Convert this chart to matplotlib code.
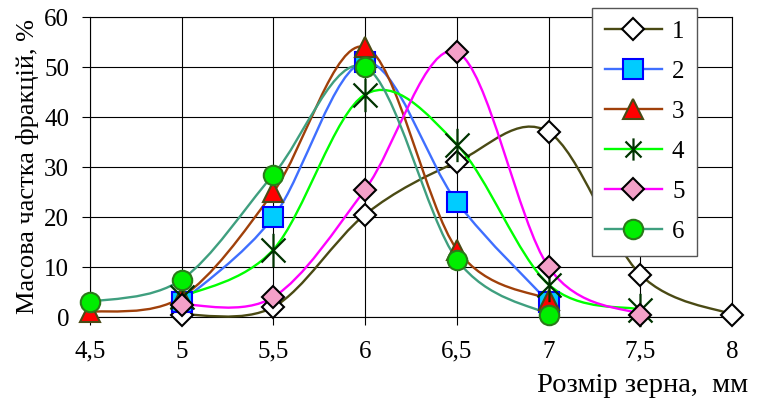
import matplotlib
matplotlib.use('Agg')
import matplotlib.pyplot as plt
from matplotlib.path import Path
from matplotlib.patches import PathPatch
from matplotlib.lines import Line2D

plt.rcParams['font.family'] = ['Liberation Serif', 'DejaVu Serif']

# розмір зерна, мм
x1 = [5, 5.5, 6, 6.5, 7, 7.5, 8]
y1 = [0.5, 2, 20.5, 31, 37, 8.5, 0.5]
x2 = [5, 5.5, 6, 6.5, 7]
y2 = [3, 20, 51, 23, 3]
x3 = [4.5, 5, 5.5, 6, 6.5, 7]
y3 = [1, 4, 25, 54, 13.5, 3.5]
x4 = [5, 5.5, 6, 6.5, 7, 7.5]
y4 = [4, 13.5, 44.5, 34.5, 6.5, 1.5]
x5 = [5, 5.5, 6, 6.5, 7, 7.5]
y5 = [2.5, 4, 25.5, 53, 10, 0.5]
x6 = [4.5, 5, 5.5, 6, 6.5, 7]
y6 = [3, 7.5, 28.5, 50, 11.5, 0.5]
labels = ['1', '2', '3', '4', '5', '6']
xticks = [4.5, 5, 5.5, 6, 6.5, 7, 7.5, 8]
xticklabels = ['4,5', '5', '5,5', '6', '6,5', '7', '7,5', '8']

# зірочка як в Excel: вертикаль + косий хрест
ASTER = Path([(0, -1), (0, 1), (-0.72, -0.72), (0.72, 0.72),
              (-0.72, 0.72), (0.72, -0.72)],
             [Path.MOVETO, Path.LINETO] * 3)

styles = [
    dict(lc='#4a4a14', marker='D', mfc='white', mec='black', ms=11, lms=11),
    dict(lc='#3f6fff', marker='s', mfc='#00ccff', mec='#0000ff', ms=14, lms=14),
    dict(lc='#a0400a', marker='^', mfc='#ff0000', mec='#4a4a14', ms=15, lms=15),
    dict(lc='#00ff00', marker=ASTER, mfc='none', mec='#003300', ms=24, lms=16),
    dict(lc='#ff00ff', marker='D', mfc='#f4a0c8', mec='black', ms=11, lms=11),
    dict(lc='#3f9f7f', marker='o', mfc='#00ee00', mec='#2a7a1a', ms=14, lms=14),
]


def smooth_path(xs, ys):
    # згладжена лінія як у Excel (Catmull-Rom через криві Безьє)
    pts = list(zip(xs, ys))
    n = len(pts)
    verts = [pts[0]]
    codes = [Path.MOVETO]
    for i in range(n - 1):
        p0 = pts[i - 1] if i > 0 else pts[i]
        p1 = pts[i]
        p2 = pts[i + 1]
        p3 = pts[i + 2] if i + 2 < n else pts[i + 1]
        c1 = (p1[0] + (p2[0] - p0[0]) / 6, p1[1] + (p2[1] - p0[1]) / 6)
        c2 = (p2[0] - (p3[0] - p1[0]) / 6, p2[1] - (p3[1] - p1[1]) / 6)
        verts += [c1, c2, p2]
        codes += [Path.CURVE4] * 3
    return Path(verts, codes)


fig = plt.figure(figsize=(7.6, 4.03), dpi=100)
ax = fig.add_axes([90 / 760, 1 - 317 / 403, 642 / 760, 300 / 403])

data = [(x1, y1), (x2, y2), (x3, y3), (x4, y4), (x5, y5), (x6, y6)]
handles = []
for (xs, ys), st, lab in zip(data, styles, labels):
    ax.add_patch(PathPatch(smooth_path(xs, ys), fill=False, ec=st['lc'],
                           lw=1.7, zorder=3, clip_on=False))
    mew = 1.5 if st['marker'] is not ASTER else 1.6
    ax.plot(xs, ys, ls='none', marker=st['marker'], mfc=st['mfc'],
            mec=st['mec'], ms=st['ms'], mew=mew, zorder=4, clip_on=False)
    handles.append(Line2D([], [], color=st['lc'], lw=1.7, marker=st['marker'],
                          mfc=st['mfc'], mec=st['mec'], ms=st['lms'], mew=mew,
                          label=lab))

ax.set_xlim(4.5, 8)
ax.set_ylim(0, 60)
ax.set_xticks(xticks)
ax.set_xticklabels(xticklabels)
ax.set_yticks(range(0, 61, 10))
ax.tick_params(axis='x', direction='out', length=6, width=0.8, labelsize=18, pad=11)
ax.tick_params(axis='y', direction='out', length=6, width=0.8, labelsize=18, pad=9)
ax.grid(True, color='black', lw=0.8)
ax.set_axisbelow(True)
for s in ax.spines.values():
    s.set_color('black')
    s.set_linewidth(0.8)

ax.set_ylabel('Масова частка фракцій, %', fontsize=19, labelpad=4)
fig.text(748 / 760, 1 - 386 / 403, 'Розмір зерна,  мм', fontsize=20.5,
         ha='right', va='center')

leg = fig.legend(handles=handles, loc='upper left',
                 bbox_to_anchor=(592 / 760, 1 - 8 / 403), fontsize=18,
                 frameon=True, fancybox=False, edgecolor='#555555',
                 framealpha=1, handlelength=2.3, labelspacing=0.7,
                 borderpad=0.5, handletextpad=0.4, numpoints=1,
                 borderaxespad=0)
leg.get_frame().set_linewidth(1)

fig.savefig('out.png', dpi=100)
